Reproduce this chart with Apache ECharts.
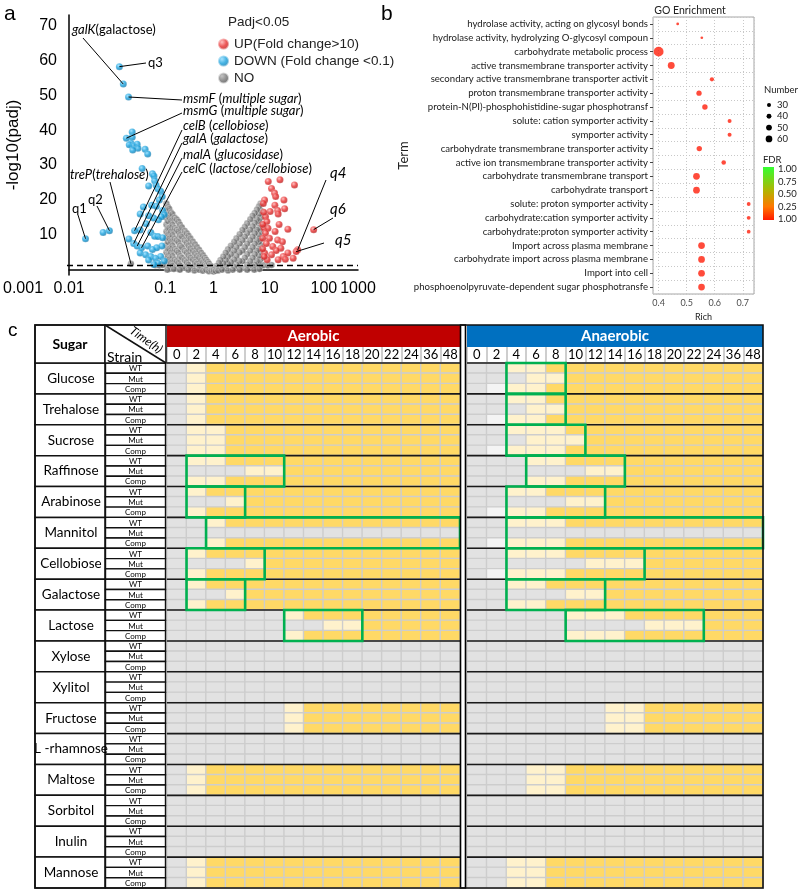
<!DOCTYPE html>
<html><head><meta charset="utf-8">
<script src="https://cdn.jsdelivr.net/npm/echarts@6/dist/echarts.min.js"></script>
<style>html,body{margin:0;padding:0;background:#fff}#c{width:800px;height:891px}</style>
</head><body><div id="c"></div>
<script>
// ================= DATA =================
// Panel a: volcano points [fold change, -log10(padj)]
const upPts = [[13.7,25.3],[24,25.8],[48,24.3],[16,23.3],[18.5,22],[19.5,21],[11.5,20],[10.8,19],[29,20],[18.8,18.5],[21.5,17],[15,16.7],[12,15.2],[22,16],[12.8,13.8],[11.2,12],[13.5,11.9],[35,11.6],[12,10.5],[14.5,9],[21.5,8.5],[27,8],[17,6.7],[25,6.2],[11.5,4.8],[16,4.3],[28,3.8],[35,4.8],[13,2.9],[22,2.9],[31,3],[45,3.3],[11.3,3.8],[10.5,6],[10.5,9],[10.6,13],[11,16.5],[19,11],[23,13],[30,17.5],[12.5,7.5],[20,5.5],[56,5.7],[52,5.2],[120,11.5]];
const downPts = [[0.0022,8.9],[0.0051,10.7],[0.0069,11.2],[0.0111,58.2],[0.0134,53.2],[0.0172,49.5],[0.0155,37.7],[0.0205,39.5],[0.0205,38],[0.0195,36.2],[0.0178,35.8],[0.022,35.5],[0.026,36],[0.027,34.8],[0.021,34.3],[0.038,34.5],[0.043,33.2],[0.033,29],[0.054,27.5],[0.058,26.9],[0.06,25.5],[0.045,24],[0.064,24.3],[0.07,23.2],[0.08,22.5],[0.086,21],[0.075,20],[0.052,18.5],[0.035,18],[0.065,18.2],[0.088,17],[0.095,15.8],[0.03,16],[0.045,15.5],[0.057,14.8],[0.072,14.3],[0.083,15.2],[0.04,13.2],[0.03,11.4],[0.023,11.2],[0.05,10.7],[0.06,9.6],[0.07,9.5],[0.088,9.2],[0.0175,8.8],[0.022,7.5],[0.026,6.8],[0.032,6.3],[0.043,6.8],[0.054,5.8],[0.066,6.3],[0.085,6.8],[0.03,4.8],[0.039,4.3],[0.05,3.8],[0.062,3.3],[0.08,3.8],[0.045,2.8],[0.095,2.5],[0.07,1.9],[0.058,1.5]];
const noPts = [[0.105,19],[0.105,17],[0.105,15],[0.105,13],[0.105,11],[0.105,9],[0.105,7],[0.105,5],[0.105,3],[0.105,1.5],
[0.113,18],[0.113,16],[0.113,14],[0.113,12],[0.113,10],[0.113,8],[0.113,6],[0.113,4],[0.113,2],[0.113,0.5],
[0.12,17.5],[0.12,15],[0.12,12],[0.12,9],[0.12,6],[0.12,3],[0.12,1],
[0.13,16.5],[0.13,14],[0.13,11],[0.13,8],[0.13,5],[0.13,2],[0.13,0.3],
[0.14,16],[0.14,13],[0.14,10],[0.14,7],[0.14,4],[0.14,1.2],
[0.155,15],[0.155,12],[0.155,9],[0.155,6],[0.155,3],[0.155,0.5],
[0.17,14.5],[0.17,11.5],[0.17,8.5],[0.17,5.5],[0.17,2.5],
[0.185,13.8],[0.185,11],[0.185,8],[0.185,5],[0.185,2],[0.185,0.3],
[0.2,13],[0.2,10],[0.2,7],[0.2,4],[0.2,1.3],
[0.22,12.2],[0.22,9.5],[0.22,6.5],[0.22,3.5],[0.22,0.5],
[0.25,11.2],[0.25,8.5],[0.25,5.5],[0.25,2.8],[0.25,0.8],
[0.275,10.5],[0.275,7.8],[0.275,5],[0.275,2.2],
[0.3,9.8],[0.3,7],[0.3,4.2],[0.3,1.5],
[0.33,9],[0.33,6.2],[0.33,3.5],[0.33,0.5],
[0.37,8.1],[0.37,5.5],[0.37,3],[0.37,0.8],
[0.41,7.3],[0.41,4.8],[0.41,2.3],
[0.45,6.5],[0.45,4],[0.45,1.8],
[0.5,5.7],[0.5,3.5],[0.5,1.2],
[0.55,4.9],[0.55,2.8],[0.55,0.9],
[0.6,4.2],[0.6,2.2],[0.6,0.3],
[0.65,3.5],[0.65,1.5],[0.7,2.9],[0.7,1.2],[0.75,2.3],[0.75,0.8],[0.8,1.8],[0.8,0.3],[0.85,1.2],[0.9,0.9],[0.95,0.4],
[9.5,19],[9.5,17],[9.5,15],[9.5,13],[9.5,11],[9.5,9],[9.5,7],[9.5,5],[9.5,3],[9.5,1.5],
[8.8,18.2],[8.8,16],[8.8,14],[8.8,12],[8.8,10],[8.8,8],[8.8,6],[8.8,4],[8.8,2],[8.8,0.5],
[8,17.3],[8,14.5],[8,11.5],[8,8.5],[8,5.5],[8,2.5],
[7.2,16.3],[7.2,13.5],[7.2,10.5],[7.2,7.5],[7.2,4.5],[7.2,1.5],
[6.5,15.5],[6.5,12.5],[6.5,9.5],[6.5,6.5],[6.5,3.5],[6.5,1],
[5.8,14.5],[5.8,11.5],[5.8,8.5],[5.8,5.5],[5.8,2.5],
[5,13.3],[5,10.5],[5,7.5],[5,4.5],[5,1.5],
[4.5,12.3],[4.5,9.5],[4.5,6.5],[4.5,3.5],[4.5,0.5],
[4,11.4],[4,8.5],[4,5.5],[4,2.5],
[3.5,10.2],[3.5,7.5],[3.5,5],[3.5,2.5],[3.5,0.3],
[3,9],[3,6.5],[3,4],[3,1.5],
[2.7,8],[2.7,5.5],[2.7,3],[2.7,0.8],
[2.3,6.9],[2.3,4.5],[2.3,2.2],
[2,5.9],[2,3.8],[2,1.7],
[1.8,4.9],[1.8,2.8],[1.8,0.9],
[1.6,3.8],[1.6,1.9],
[1.4,2.8],[1.4,1.2],[1.3,2],[1.3,0.6],[1.15,1.1],[1.1,0.5],
[0.11,0],[0.15,0.2],[0.2,0],[0.3,0],[0.4,-0.2],[0.5,0],[0.6,-0.3],[0.7,0],[0.8,-0.4],[0.9,-0.2],[1,-0.5],[1,0],[1.1,-0.3],[1.25,-0.2],[1.5,0],[2,-0.2],[2.5,0],[3.5,0],[5,0],[7,0],[9,0.2],
[0.062,1.3],[0.075,1.2],[0.088,1.4],[11,1.3],[13.5,1.2],[16,1.4],[0.0193,1.7]];
const padjCut = 1.3;
const volcanoXLabels = {'-3':'0.001','-2':'0.01','-1':'0.1','0':'1','1':'10','2':'100','3':'1000'};
const seriesNames = ['UP(Fold change>10)','DOWN (Fold change <0.1)','NO'];

// Panel b: GO enrichment
const goTerms = ['hydrolase activity, acting on glycosyl bonds','hydrolase activity, hydrolyzing O-glycosyl compoun','carbohydrate metabolic process','active transmembrane transporter activity','secondary active transmembrane transporter activit','proton transmembrane transporter activity','protein-N(PI)-phosphohistidine-sugar phosphotransf','solute: cation symporter activity','symporter activity','carbohydrate transmembrane transporter activity','active ion transmembrane transporter activity','carbohydrate transmembrane transport','carbohydrate transport','solute: proton symporter activity','carbohydrate:cation symporter activity','carbohydrate:proton symporter activity','Import across plasma membrane','carbohydrate import across plasma membrane','Import into cell','phosphoenolpyruvate-dependent sugar phosphotransfe'];
const goRich = [0.468,0.554,0.400,0.445,0.590,0.544,0.565,0.653,0.653,0.545,0.632,0.535,0.535,0.721,0.721,0.721,0.553,0.553,0.553,0.553];
const goNumber = [16,15,95,62,32,44,46,30,30,45,36,60,60,28,28,27,60,60,60,60];
const numberLegend = [30,40,50,60];
const fdrLabels = ['1.00','0.75','0.50','0.25','1.00'];

// Panel c: growth table
const times = ['0','2','4','6','8','10','12','14','16','18','20','22','24','36','48'];
const sugars = ['Glucose','Trehalose','Sucrose','Raffinose','Arabinose','Mannitol','Cellobiose','Galactose','Lactose','Xylose','Xylitol','Fructose','L -rhamnose','Maltose','Sorbitol','Inulin','Mannose'];
const strains = ['WT','Mut','Comp'];
// g = no growth (grey), c = weak (light), y = growth (yellow), w = pale grey
const aerobic = [
 ['gcyyyyyyyyyyyyy','gcyyyyyyyyyyyyy','gcyyyyyyyyyyyyy'],
 ['gcyyyyyyyyyyyyy','gcyyyyyyyyyyyyy','gcyyyyyyyyyyyyy'],
 ['gccyyyyyyyyyyyy','gccyyyyyyyyyyyy','gccyyyyyyyyyyyy'],
 ['gccyyyyyyyyyyyy','ggggccyyyyyyyyy','gccyyyyyyyyyyyy'],
 ['gcyyyyyyyyyyyyy','gggcyyyyyyyyyyy','gcyyyyyyyyyyyyy'],
 ['ggcyyyyyyyyyyyy','ggggggggggggggg','ggcyyyyyyyyyyyy'],
 ['gcyyyyyyyyyyyyy','ggggcyyyyyyyyyy','gcyyyyyyyyyyyyy'],
 ['gcyyyyyyyyyyyyy','gggcyyyyyyyyyyy','gcyyyyyyyyyyyyy'],
 ['ggggggcyyyyyyyy','ggggggggccyyyyy','ggggggcyyyyyyyy'],
 ['ggggggggggggggg','ggggggggggggggg','ggggggggggggggg'],
 ['ggggggggggggggg','ggggggggggggggg','ggggggggggggggg'],
 ['ggggggcyyyyyyyy','ggggggcyyyyyyyy','ggggggcyyyyyyyy'],
 ['ggggggggggggggg','ggggggggggggggg','ggggggggggggggg'],
 ['gcyyyyyyyyyyyyy','gcyyyyyyyyyyyyy','gcyyyyyyyyyyyyy'],
 ['ggggggggggggggg','ggggggggggggggg','ggggggggggggggg'],
 ['ggggggggggggggg','ggggggggggggggg','ggggggggggggggg'],
 ['gcyyyyyyyyyyyyy','gcyyyyyyyyyyyyy','gcyyyyyyyyyyyyy']
];
const anaerobic = [
 ['ggccyyyyyyyyyyy','gggccyyyyyyyyyy','gwccyyyyyyyyyyy'],
 ['ggccyyyyyyyyyyy','gggccyyyyyyyyyy','gwccyyyyyyyyyyy'],
 ['ggcccyyyyyyyyyy','gggcccyyyyyyyyy','gwcccyyyyyyyyyy'],
 ['gggccyyyyyyyyyy','ggggggccyyyyyyy','gggccyyyyyyyyyy'],
 ['ggccyyyyyyyyyyy','gggggccyyyyyyyy','gwccyyyyyyyyyyy'],
 ['ggcccyyyyyyyyyy','ggggggggggggggg','gwcccyyyyyyyyyy'],
 ['ggcccyyyyyyyyyy','ggggggcccyyyyyy','gwcccyyyyyyyyyy'],
 ['ggccyyyyyyyyyyy','gggggccyyyyyyyy','ggccyyyyyyyyyyy'],
 ['gggggcccyyyyyyy','gggggggggcccyyy','gggggcccyyyyyyy'],
 ['ggggggggggggggg','ggggggggggggggg','ggggggggggggggg'],
 ['ggggggggggggggg','ggggggggggggggg','ggggggggggggggg'],
 ['gggggggccyyyyyy','gggggggccyyyyyy','gggggggccyyyyyy'],
 ['ggggggggggggggg','ggggggggggggggg','ggggggggggggggg'],
 ['gggccyyyyyyyyyy','gggccyyyyyyyyyy','gggccyyyyyyyyyy'],
 ['ggggggggggggggg','ggggggggggggggg','ggggggggggggggg'],
 ['ggggggggggggggg','ggggggggggggggg','ggggggggggggggg'],
 ['ggccyyyyyyyyyyy','ggccyyyyyyyyyyy','ggccyyyyyyyyyyy']
];
// highlighted boxes: [sugar index, first time column, last time column]
const aerobicBoxes = [[3,1,5],[4,1,3],[5,2,14],[6,1,4],[7,1,3],[8,6,9]];
const anaerobicBoxes = [[0,2,4],[1,2,4],[2,2,5],[3,3,7],[4,2,6],[5,2,14],[6,2,8],[7,2,6],[8,5,11]];

// ================= STYLE / LAYOUT =================
const FA = 'Liberation Sans', FL = 'Lato';
const T = {left:35, sugarR:105, strainR:166, aerL:167, aerR:460, anaL:467, anaR:763, top:325, barB:347, timeB:363, bottom:888};
const cellColors = ['#e2e2e2','#fff2cc','#ffd966','#f4f4f4'];
const codeVal = {g:0,c:1,y:2,w:3};
function sphere(light, main, dark){return {type:'radial',x:0.38,y:0.35,r:0.75,colorStops:[{offset:0,color:light},{offset:0.45,color:main},{offset:1,color:dark}]};}
function bubbleSize(n){return Math.max(2, 4 + (n-30)*0.09);}

const rowKeys = [];
sugars.forEach(s=>strains.forEach(t=>rowKeys.push(s+'|'+t)));
function heatData(cond){const out=[];cond.forEach((grp,gi)=>grp.forEach((str,si)=>{for(let c=0;c<times.length;c++)out.push([c,gi*3+si,codeVal[str[c]]]);}));return out;}

const chart = echarts.init(document.getElementById('c'), null, {width:800,height:891});

function rowGeom(api, row){const p=api.coord([0,row]);const h=api.size([0,1])[1];return {y:p[1]-h/2,h:h};}

const series = [];
// Panel a
series.push({name:seriesNames[2],type:'scatter',xAxisIndex:0,yAxisIndex:0,data:noPts,symbolSize:6.5,
  itemStyle:{color:sphere('#b5b5b5','#767676','#383838'),borderColor:'rgba(255,255,255,0.8)',borderWidth:0.6},z:2,
  markLine:{silent:true,symbol:['none','none'],label:{show:false},
    data:[
      [{yAxis:padjCut,x:67,lineStyle:{type:[6,4],color:'#000',width:1.3}},{yAxis:padjCut,x:358}],
      [{coord:[0.0193,1.7],lineStyle:{color:'#000',width:1,type:'solid'}},{x:110,y:182}]
    ]}});
series.push({name:seriesNames[1],type:'scatter',xAxisIndex:0,yAxisIndex:0,data:downPts,symbolSize:7,
  itemStyle:{color:sphere('#8fdcff','#18a0dc','#0a6a9c'),borderColor:'rgba(255,255,255,0.6)',borderWidth:0.4},z:3,
  markLine:{silent:true,symbol:['none','none'],label:{show:false},lineStyle:{color:'#000',width:1,type:'solid'},
    data:[
      [{coord:[0.0134,53.2]},{x:83,y:38}],
      [{coord:[0.0111,58.2]},{x:146,y:63}],
      [{coord:[0.0172,49.5]},{x:182,y:100}],
      [{coord:[0.0155,37.7]},{x:182,y:113}],
      [{coord:[0.023,11.2]},{x:182,y:130}],
      [{coord:[0.022,7.5]},{x:182,y:143}],
      [{coord:[0.026,6.8]},{x:182,y:158}],
      [{coord:[0.032,6.3]},{x:182,y:172}],
      [{coord:[0.0022,8.9]},{x:78,y:215}],
      [{coord:[0.0069,11.2]},{x:97,y:206}]
    ]}});
series.push({name:seriesNames[0],type:'scatter',xAxisIndex:0,yAxisIndex:0,data:upPts,symbolSize:7,
  itemStyle:{color:sphere('#ffb0b0','#e83030','#a81010'),borderColor:'rgba(255,255,255,0.6)',borderWidth:0.4},z:3,
  markLine:{silent:true,symbol:['none','none'],label:{show:false},lineStyle:{color:'#000',width:1,type:'solid'},
    data:[
      [{coord:[56,5.7]},{x:326,y:180}],
      [{coord:[120,11.5]},{x:333,y:218}],
      [{coord:[52,5.2]},{x:324,y:243}]
    ]}});
// Panel b
series.push({type:'scatter',xAxisIndex:1,yAxisIndex:1,
  data:goTerms.map((t,i)=>[goRich[i],t,goNumber[i]]),
  symbolSize:v=>bubbleSize(v[2]),itemStyle:{color:'#ff1e0a'},z:3});
// Panel c: label columns
series.push({type:'custom',xAxisIndex:2,yAxisIndex:2,data:sugars.map((s,i)=>[0,i*3]),z:5,
  renderItem:(params,api)=>{const cs=params.coordSys;const g=rowGeom(api,api.value(1));
    return {type:'group',children:[
      {type:'rect',shape:{x:cs.x,y:g.y,width:cs.width,height:g.h*3},style:{fill:'#fff',stroke:'#111',lineWidth:1.5}},
      {type:'text',z2:10,style:{text:sugars[params.dataIndex],x:cs.x+cs.width/2+1,y:g.y+g.h*1.5,align:'center',verticalAlign:'middle',fontSize:13.5,fontFamily:FL,fill:'#000'}}]};}});
series.push({type:'custom',xAxisIndex:3,yAxisIndex:3,data:rowKeys.map((k,i)=>[0,i]),z:5,
  renderItem:(params,api)=>{const cs=params.coordSys;const g=rowGeom(api,api.value(1));
    return {type:'group',children:[
      {type:'rect',shape:{x:cs.x+0.5,y:g.y,width:cs.width-1,height:g.h},style:{fill:'#fff',stroke:'#111',lineWidth:1.4}},
      {type:'text',style:{text:strains[params.dataIndex%3],x:cs.x+cs.width/2,y:g.y+g.h/2+0.5,align:'center',verticalAlign:'middle',fontSize:8,fontFamily:FL,fill:'#000'}}]};}});
// heatmaps
const heatIdx = [];
[[aerobic,4],[anaerobic,5]].forEach(([cond,gi])=>{
  heatIdx.push(series.length);
  series.push({type:'heatmap',xAxisIndex:gi,yAxisIndex:gi,data:heatData(cond),
    itemStyle:{borderColor:'#cdcdcd',borderWidth:1.4},emphasis:{disabled:true},z:2});
  series.push({type:'custom',xAxisIndex:gi,yAxisIndex:gi,data:sugars.map((s,i)=>[0,i*3]),z:6,
    renderItem:(params,api)=>{const cs=params.coordSys;const g=rowGeom(api,api.value(1));
      return {type:'line',shape:{x1:cs.x,y1:g.y,x2:cs.x+cs.width,y2:g.y},style:{stroke:'#1a1a1a',lineWidth:1.6}};}});
});
[[aerobicBoxes,4],[anaerobicBoxes,5]].forEach(([boxes,gi])=>{
  series.push({type:'custom',xAxisIndex:gi,yAxisIndex:gi,data:boxes.map(b=>[b[1],b[0]*3,b[2]]),z:8,
    renderItem:(params,api)=>{const p0=api.coord([api.value(0),api.value(1)]);const sz=api.size([1,1]);
      const ncol=api.value(2)-api.value(0)+1;
      return {type:'rect',shape:{x:p0[0]-sz[0]/2,y:p0[1]-sz[1]/2,width:sz[0]*ncol,height:sz[1]*3},
        style:{fill:'none',stroke:'#00b050',lineWidth:2.6}};}});
});

// ================= GRAPHICS =================
const G = [];
const txt = (x,y,text,o)=>G.push(Object.assign({type:'text',x:x,y:y,z:50,style:Object.assign({text:text,fill:'#000',fontFamily:FL,fontSize:13,verticalAlign:'middle'},o||{})}));
txt(4,14,'a',{fontFamily:FA,fontSize:21});
txt(381,14,'b',{fontFamily:FA,fontSize:21});
txt(8,331,'c',{fontFamily:FA,fontSize:19});
// Panel a annotations
txt(228,22,'Padj<0.05',{fontFamily:FA,fontSize:13.5,fill:'#222'});
const ri = {i:{fontStyle:'italic',fontFamily:FL,fontSize:13}};
txt(72,30,'{i|galK}(galactose)',{rich:ri});
txt(148,63,'q3');
txt(183,99,'{i|msmF} ({i|multiple sugar})',{rich:ri});
txt(183,111,'{i|msmG} ({i|multiple sugar})',{rich:ri});
txt(183,126,'{i|celB} ({i|cellobiose})',{rich:ri});
txt(183,139,'{i|galA} ({i|galactose})',{rich:ri});
txt(183,155,'{i|malA} ({i|glucosidase})',{rich:ri});
txt(183,169,'{i|celC} ({i|lactose/cellobiose})',{rich:ri});
txt(70,175,'{i|treP}({i|trehalose})',{rich:ri});
txt(72,209,'q1');
txt(88,200,'q2');
txt(330,173,'q4',{fontStyle:'italic',fontSize:15});
txt(330,209,'q6',{fontStyle:'italic',fontSize:15});
txt(335,240,'q5',{fontStyle:'italic',fontSize:15});
// Panel b extras
txt(690,11,'GO Enrichment',{align:'center',fontSize:10.5,fill:'#222'});
txt(764,90,'Number',{fontSize:9.5,fill:'#222'});
numberLegend.forEach((n,i)=>{
  const cy=105+i*11.3;
  G.push({type:'circle',z:50,shape:{cx:769,cy:cy,r:bubbleSize(n)/2},style:{fill:'#000'}});
  txt(777,cy,String(n),{fontSize:9.5,fill:'#222'});
});
txt(763,160,'FDR',{fontSize:9.5,fill:'#222'});
G.push({type:'rect',z:50,shape:{x:763,y:167,width:11,height:53},style:{fill:{type:'linear',x:0,y:0,x2:0,y2:1,colorStops:[{offset:0,color:'#33ff33'},{offset:0.45,color:'#b3b300'},{offset:0.75,color:'#ff7700'},{offset:1,color:'#ff1a00'}]}}});
fdrLabels.forEach((l,i)=>txt(778,169+i*12.5,l,{fontSize:9.5,fill:'#222'}));
// Panel c frame
G.push({type:'rect',z:40,shape:{x:T.left,y:T.top,width:T.sugarR-T.left,height:T.timeB-T.top},style:{fill:'#fff',stroke:'#111',lineWidth:1.5}});
G.push({type:'rect',z:40,shape:{x:T.sugarR,y:T.top,width:T.strainR-T.sugarR,height:T.timeB-T.top},style:{fill:'#fff',stroke:'#111',lineWidth:1.5}});
G.push({type:'line',z:41,shape:{x1:T.sugarR,y1:T.top,x2:T.strainR,y2:T.timeB},style:{stroke:'#111',lineWidth:1.5}});
txt((T.left+T.sugarR)/2,344,'Sugar',{align:'center',fontWeight:'bold',fontSize:14});
txt(107,357,'Strain',{fontSize:14});
G.push({type:'text',z:50,x:146,y:340,rotation:-0.62,style:{text:'Time(h)',fontStyle:'italic',fontFamily:FL,fontSize:12,align:'center',verticalAlign:'middle',fill:'#000'}});
G.push({type:'rect',z:40,shape:{x:T.aerL,y:T.top,width:T.aerR-T.aerL,height:T.barB-T.top},style:{fill:'#c00000'}});
G.push({type:'rect',z:40,shape:{x:T.anaL,y:T.top,width:T.anaR-T.anaL,height:T.barB-T.top},style:{fill:'#0070c0'}});
txt((T.aerL+T.aerR)/2,336,'Aerobic',{align:'center',fontWeight:'bold',fontSize:15,fill:'#fff'});
txt((T.anaL+T.anaR)/2,336,'Anaerobic',{align:'center',fontWeight:'bold',fontSize:15,fill:'#fff'});
G.push({type:'rect',z:60,shape:{x:T.aerR+0.5,y:T.top,width:5,height:T.bottom-T.top},style:{fill:'#fff',stroke:'#000',lineWidth:1.6}});
G.push({type:'rect',z:60,shape:{x:T.left,y:T.top,width:T.anaR-T.left,height:T.bottom-T.top},style:{fill:'none',stroke:'#111',lineWidth:1.6}});

// ================= OPTION =================
const hxAxis = (gi)=>({type:'category',gridIndex:gi,data:times,position:'top',
  axisLine:{show:true,lineStyle:{color:'#bfbfbf',width:1}},
  axisTick:{show:true,interval:0,length:16,lineStyle:{color:'#bfbfbf',width:1.5}},
  axisLabel:{interval:0,margin:2,fontSize:13,fontFamily:FL,color:'#000'},splitLine:{show:false}});
const hyAxis = (gi)=>({type:'category',gridIndex:gi,data:rowKeys,inverse:true,show:false});

chart.setOption({
  animation:false,
  backgroundColor:'#fff',
  grid:[
    {left:67,top:15,width:291,height:260},
    {left:653,top:17,width:101,height:277,show:true,borderColor:'#a6a6a6',borderWidth:1,backgroundColor:'#fff'},
    {left:T.left,top:T.timeB,width:T.sugarR-T.left,height:T.bottom-T.timeB},
    {left:T.sugarR,top:T.timeB,width:T.strainR-T.sugarR,height:T.bottom-T.timeB},
    {left:T.aerL,top:T.timeB,width:T.aerR-T.aerL,height:T.bottom-T.timeB},
    {left:T.anaL,top:T.timeB,width:T.anaR-T.anaL,height:T.bottom-T.timeB}
  ],
  xAxis:[
    {type:'log',gridIndex:0,logBase:10,min:0.001,max:1000,
     axisLine:{lineStyle:{color:'#000',width:1.5}},axisTick:{show:false},splitLine:{show:false},
     axisLabel:{margin:6,fontSize:16,fontFamily:FA,color:'#000',
       formatter:v=>{const e=String(Math.round(Math.log10(v)));const t=volcanoXLabels[e];
         if(e==='-3')return '{a|'+t+'}'; if(e==='-2')return '{b|'+t+'}'; if(e==='1')return '{c|'+t+'}'; if(e==='2')return '{d|'+t+'}'; return t;},
       rich:{a:{padding:[0,92,0,0],fontSize:16,fontFamily:FA},b:{padding:[0,96,0,0],fontSize:16,fontFamily:FA},c:{padding:[0,0,0,16],fontSize:16,fontFamily:FA},d:{padding:[0,0,0,28],fontSize:16,fontFamily:FA}}}},
    {type:'value',gridIndex:1,min:0.38,max:0.74,splitNumber:4,
     axisLine:{show:false},axisTick:{show:false},
     axisLabel:{fontSize:9,fontFamily:FL,color:'#4d4d4d',margin:5,formatter:v=>(Math.abs(v*10-Math.round(v*10))<1e-6)?v.toFixed(1):''},
     splitLine:{show:true,lineStyle:{type:[1,2],color:'#c8c8c8'}},
     name:'Rich',nameLocation:'middle',nameGap:19,nameTextStyle:{fontSize:9,fontFamily:FL,color:'#222'}},
    {type:'category',gridIndex:2,data:['Sugar'],show:false},
    {type:'category',gridIndex:3,data:['Strain'],show:false},
    hxAxis(4),hxAxis(5)
  ],
  yAxis:[
    {type:'value',gridIndex:0,min:-1.5,max:73,splitNumber:7,
     axisLine:{show:true,lineStyle:{color:'#000',width:1.5}},axisTick:{show:false},splitLine:{show:false},
     axisLabel:{margin:12,fontSize:16,fontFamily:FA,color:'#000',formatter:v=>(v>0&&v<=70&&Math.abs(v%10)<1e-9)?String(v):''},
     name:'-log10(padj)',nameLocation:'middle',nameGap:47,nameRotate:90,nameTextStyle:{fontSize:17,fontFamily:FA,color:'#000'}},
    {type:'category',gridIndex:1,data:goTerms,inverse:true,
     axisLine:{show:false},axisTick:{show:true,length:3,alignWithLabel:true,lineStyle:{color:'#444'}},
     axisLabel:{fontSize:9.6,fontFamily:FL,color:'#1a1a1a',margin:5},
     splitLine:{show:true,lineStyle:{type:[1,2],color:'#c8c8c8'}},
     name:'Term',nameLocation:'middle',nameGap:234,nameTextStyle:{fontSize:13,fontFamily:FL,color:'#222'}},
    hyAxis(2),hyAxis(3),hyAxis(4),hyAxis(5)
  ],
  legend:{data:seriesNames,orient:'vertical',left:212,top:32,itemGap:3,itemWidth:11,itemHeight:11,icon:'circle',
    textStyle:{fontSize:13.5,fontFamily:FA,color:'#222'},selectedMode:false},
  visualMap:{type:'piecewise',show:false,dimension:2,seriesIndex:heatIdx,
    pieces:cellColors.map((c,i)=>({value:i,color:c}))},
  graphic:{elements:G},
  series:series
});
</script></body></html>
